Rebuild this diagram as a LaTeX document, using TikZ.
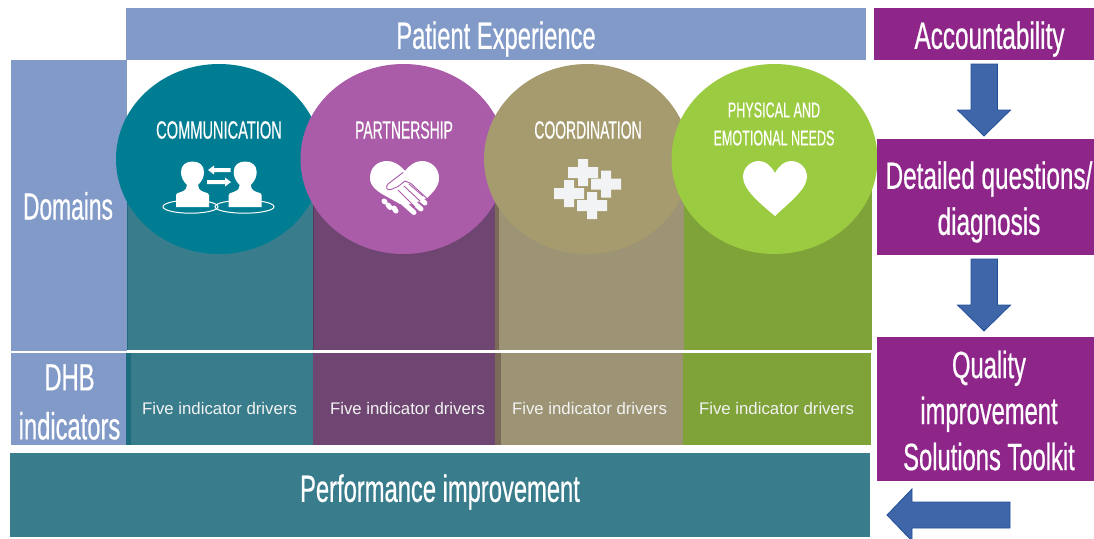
\documentclass[tikz,border=0pt]{standalone}
\usepackage{fontspec}
\setmainfont{Liberation Sans}
\newfontfamily\condbody[FakeStretch=0.625,FakeBold=0.5]{Liberation Sans}
\newfontfamily\condwide[FakeStretch=0.64,FakeBold=0.5]{Liberation Sans}
\newfontfamily\condnarrow[FakeStretch=0.6,FakeBold=0.5]{Liberation Sans}
\newfontfamily\condcaps[FakeStretch=0.585,FakeBold=0.4]{Liberation Sans}
\newfontfamily\condcapsn[FakeStretch=0.557,FakeBold=0.4]{Liberation Sans}
\definecolor{lblue}{HTML}{819AC8}
\definecolor{tealc}{HTML}{007D93}
\definecolor{teall}{HTML}{397D8D}
\definecolor{teald}{HTML}{1E6C80}
\definecolor{purc}{HTML}{AA5CA8}
\definecolor{purl}{HTML}{6F4672}
\definecolor{tanc}{HTML}{A59B6E}
\definecolor{tanl}{HTML}{9C9474}
\definecolor{tand}{HTML}{7B6A58}
\definecolor{grnc}{HTML}{9BCB40}
\definecolor{grnl}{HTML}{7FA239}
\definecolor{magb}{HTML}{8E268A}
\definecolor{arrf}{HTML}{4066AA}
\definecolor{arrd}{HTML}{1F4E96}
\definecolor{plusc}{HTML}{F1F3F4}
\tikzset{
  box/.style={inner sep=0pt,outer sep=0pt,text=white,align=center,font=\condbody\fontsize{38}{46}\selectfont},
  boxw/.style={box,font=\condwide\fontsize{38}{46}\selectfont},
  drv/.style={text=white!90!gray,inner sep=0pt,font=\fontsize{16.8}{18}\selectfont},
  caps/.style={text=white,inner sep=0pt,align=center,font=\condcaps\fontsize{25}{28}\selectfont},
  capsn/.style={caps,font=\condcapsn\fontsize{25}{28}\selectfont},
  bigarrow/.style={fill=arrf,draw=arrd,line width=0.8pt,line join=miter},
  circ/.style={ellipse,inner sep=0pt,outer sep=0pt,minimum width=206pt,minimum height=190pt},
  plusmark/.style={fill=plusc},
  finger/.style={white,line width=5pt,line cap=round},
  seam/.style={purc,line width=0.9pt,line cap=round,line join=round},
}
\usetikzlibrary{shapes.geometric}
\newcommand{\plusat}[2]{\fill[plusmark,shift={(#1,#2)}] (-15,-5.5) -- (-5,-5.5) -- (-5,-13.5) -- (5,-13.5) -- (5,-5.5) -- (15,-5.5) -- (15,5.5) -- (5,5.5) -- (5,13.5) -- (-5,13.5) -- (-5,5.5) -- (-15,5.5) -- cycle;}
\newcommand{\personat}[1]{\fill[white,shift={(#1,0)}] (176,207) -- (176,195) .. controls (176,193) and (178,193) .. (181,192) .. controls (186,190) and (187,188) .. (187,185) .. controls (183,181) and (181,177) .. (181,172) .. controls (181,165) and (186,161.5) .. (192.5,161.5) .. controls (199,161.5) and (204,165) .. (204,172) .. controls (204,177) and (202,181) .. (198,185) .. controls (198,188) and (199,190) .. (204,192) .. controls (207,193) and (209,193) .. (209,195) -- (209,207) -- cycle;}
\begin{document}
\begin{tikzpicture}[x=1pt,y=-1pt]
\path[use as bounding box] (0,0) rectangle (1094,538);
% columns
\fill[teall] (127,170) rectangle (313,350);
\fill[purl] (313,170) rectangle (495,350);
\fill[tand] (495,170) rectangle (499,350);
\fill[tanl] (499,170) rectangle (684,350);
\fill[grnl] (684,170) rectangle (872,350);
\draw[teald,line width=0.6pt] (127.3,170) -- (127.3,350);
\draw[purl!80!black,line width=0.6pt] (313,170) -- (313,350);
% bars
\node[box,fill=lblue,minimum width=740pt,minimum height=52pt] (patient) at (496,34) {};
\node[box] (patientt) at (496,39) {Patient Experience};
\node[box,fill=lblue,minimum width=116pt,minimum height=291pt] (domains) at (69,205.5) {};
\node[box,font=\condnarrow\fontsize{38}{46}\selectfont] (domainst) at (68,206) {Domains};
\node[box,fill=lblue,minimum width=115pt,minimum height=92pt] (dhb) at (68.5,399) {};
\node[box] (dhbt) at (69.5,402) {DHB\\[3pt]indicators};
% indicator row
\fill[teald] (126,353) rectangle (131,445);
\node[inner sep=0,outer sep=0,fill=teall,minimum width=182pt,minimum height=92pt] (d1) at (222,399) {};
\node[inner sep=0,outer sep=0,fill=purl,minimum width=182pt,minimum height=92pt] (d2) at (404,399) {};
\fill[tand] (495,353) rectangle (501,445);
\node[inner sep=0,outer sep=0,fill=tanl,minimum width=182pt,minimum height=92pt] (d3) at (592,399) {};
\node[inner sep=0,outer sep=0,fill=grnl,minimum width=188pt,minimum height=92pt] (d4) at (777,399) {};
\node[drv] (t1) at (219.5,408) {Five indicator drivers};
\node[drv] (t2) at (407.5,408) {Five indicator drivers};
\node[drv] (t3) at (589.5,408) {Five indicator drivers};
\node[drv] (t4) at (776.5,408) {Five indicator drivers};
% performance
\node[box,fill=teall,minimum width=860pt,minimum height=84pt] (perf) at (440,495) {};
\node[box] (perft) at (440,492) {Performance improvement};
% circles
\node[circ,fill=tealc] (c1) at (219,159) {};
\node[circ,fill=purc] (c2) at (403.5,159) {};
\node[circ,fill=tanc] (c3) at (587,159) {};
\node[circ,fill=grnc] (c4) at (774.5,159) {};
\node[caps] (l1) at (219,130) {COMMUNICATION};
\node[capsn] (l2) at (404,130) {PARTNERSHIP};
\node[capsn] (l3) at (588,130) {COORDINATION};
\node[caps,font=\condcaps\fontsize{21.5}{28}\selectfont] (l4) at (774,124) {PHYSICAL AND\\EMOTIONAL NEEDS};
% people icon
\draw[white,line width=1pt] (190.5,206.7) ellipse (27.5 and 6.5);
\draw[white,line width=1pt] (244.5,206.7) ellipse (29.5 and 6.5);
\personat{0}
\personat{52.7}
\fill[white] (208,170) -- (214,165.5) -- (214,168) -- (230.5,168) -- (230.5,172) -- (214,172) -- (214,174.5) -- cycle;
\fill[white] (231,182) -- (225,177.5) -- (225,180) -- (207,180) -- (207,184) -- (225,184) -- (225,186.5) -- cycle;
% handshake heart
\fill[white] (405,171) .. controls (399,164) and (393,161) .. (387,161) .. controls (377,161) and (370,168) .. (370,178) .. controls (370,186) and (376,190) .. (382,194) -- (400,204) -- (412,204) -- (427,198) .. controls (433,192) and (439,187) .. (439,178) .. controls (439,168) and (431,161) .. (422,161) .. controls (415,161) and (410,165) .. (405,171) -- cycle;
\draw[finger] (384,201) -- (385,202);
\draw[finger] (388,205) -- (390,207.5);
\draw[finger] (394,208) -- (396,211);
\draw[finger] (400,200) -- (414,212.5);
\draw[finger] (406,196) -- (421,209);
\draw[finger] (412,192) -- (425,203);
\draw[seam] (403,172.5) -- (388,184) .. controls (385,187) and (387,191) .. (391,189.5) -- (398,186.5) -- (405,181) -- (411,183.5) -- (427,198.5);
\draw[seam] (398,190) -- (415,207);
\draw[seam] (404,186) -- (420,201);
\draw[seam] (409,184) -- (423,196);
% plus icon
\plusat{583}{172.5}
\plusat{606}{184}
\plusat{569}{193.5}
\plusat{592}{205.5}
% heart
\fill[white] (775,173) .. controls (771,166) and (766,161) .. (759,161) .. controls (750,161) and (743,168) .. (743,177) .. controls (743,190) and (762,205) .. (775,216) .. controls (785,206) and (807,190) .. (807,177) .. controls (807,168) and (800,161) .. (791,161) .. controls (784,161) and (779,166) .. (775,173) -- cycle;
% right side
\node[box,fill=magb,minimum width=220pt,minimum height=52pt] (acc) at (984,34) {};
\node[boxw] (acct) at (989.5,39) {Accountability};
\node[box,fill=magb,minimum width=217pt,minimum height=116pt] (det) at (985.5,197) {};
\node[boxw] (dett) at (989,202) {Detailed questions/\\diagnosis};
\node[box,fill=magb,minimum width=217pt,minimum height=144pt] (qual) at (985.5,409) {};
\node[box] (qualt) at (989,410.5) {Quality\\improvement\\Solutions Toolkit};
\draw[bigarrow] (971,64) -- (997.5,64) -- (997.5,110) -- (1010.5,110) -- (984,136) -- (957.5,110) -- (971,110) -- cycle;
\draw[bigarrow] (971,259) -- (997.5,259) -- (997.5,305) -- (1010.5,305) -- (984,331) -- (957.5,305) -- (971,305) -- cycle;
\draw[bigarrow] (1010,502) -- (1010,528) -- (912,528) -- (912,541) -- (887,515) -- (912,489) -- (912,502) -- cycle;
\end{tikzpicture}
\end{document}
